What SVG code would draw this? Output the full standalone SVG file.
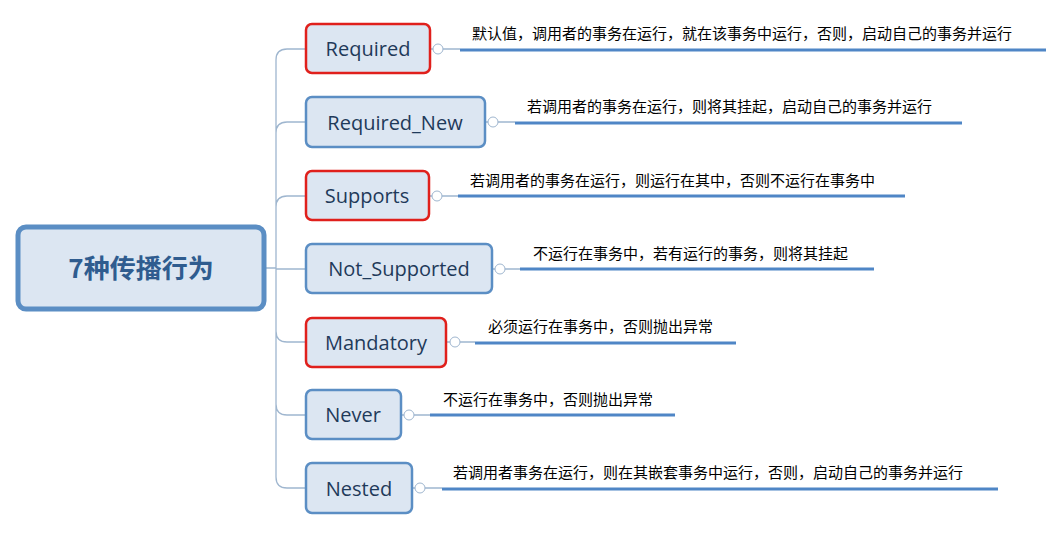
<svg xmlns="http://www.w3.org/2000/svg" width="1064" height="537" viewBox="0 0 1064 537">
<style>
.n{fill:#dce6f2;stroke:#5b8ec4;stroke-width:2.5}
.r{fill:#dce6f2;stroke:#e0201c;stroke-width:2.5}
.t{font-family:"Open Sans","Noto Sans",sans-serif;font-size:20px;fill:#1f3a5a}
.d{font-family:"Noto Sans CJK SC",sans-serif;font-size:15px;fill:#000}
.c{fill:#fff;stroke:#9fb6cf;stroke-width:1}
.u{stroke:#4f86c6;stroke-width:3}
.k{fill:none;stroke:#9fb6cf;stroke-width:1.3}
</style>
<rect width="1064" height="537" fill="#fff"/>
<g id="connectors">
<path class="k" d="M264 268H276M276 60Q276 49 287 49H306M276 133Q276 122 287 122H306M276 207Q276 196 287 196H306M276 269H306M276 331Q276 342 287 342H306M276 404Q276 415 287 415H306M276 477Q276 488 287 488H306M276 60V477"/>
<path class="k" d="M430 49H460M485 122H515M429 196H458M492 269H520M446 342H475M401 415H430M412 488H442"/>
<line class="u" x1="460" y1="50" x2="1046" y2="50"/>
<line class="u" x1="515" y1="123" x2="962" y2="123"/>
<line class="u" x1="458" y1="196" x2="905" y2="196"/>
<line class="u" x1="520" y1="269" x2="874" y2="269"/>
<line class="u" x1="475" y1="343" x2="736" y2="343"/>
<line class="u" x1="430" y1="415" x2="675" y2="415"/>
<line class="u" x1="442" y1="489" x2="998" y2="489"/>
<circle class="c" cx="438" cy="49" r="5"/><circle class="c" cx="493" cy="122" r="5"/><circle class="c" cx="437" cy="196" r="5"/><circle class="c" cx="500" cy="269" r="5"/><circle class="c" cx="455" cy="342" r="5"/><circle class="c" cx="409" cy="415" r="5"/><circle class="c" cx="420" cy="488" r="5"/>
</g>
<g id="root"><rect x="18" y="227" width="246" height="82" rx="8" fill="#dce6f2" stroke="#5b8ec4" stroke-width="5"/><text x="141" y="278" text-anchor="middle" font-family="'Noto Sans CJK SC',sans-serif" font-size="26" font-weight="bold" fill="#2f5c8f">7种传播行为</text></g>
<g id="required"><rect class="r" x="306" y="24" width="124" height="49" rx="6"/><text class="t" x="368" y="56" text-anchor="middle">Required</text><text class="d" x="472" y="39">默认值，调用者的事务在运行，就在该事务中运行，否则，启动自己的事务并运行</text></g>
<g id="required_new"><rect class="n" x="306" y="97" width="179" height="50" rx="6"/><text class="t" x="395" y="130" text-anchor="middle">Required_New</text><text class="d" x="527" y="112">若调用者的事务在运行，则将其挂起，启动自己的事务并运行</text></g>
<g id="supports"><rect class="r" x="306" y="171" width="123" height="49" rx="6"/><text class="t" x="367" y="203" text-anchor="middle">Supports</text><text class="d" x="470" y="186">若调用者的事务在运行，则运行在其中，否则不运行在事务中</text></g>
<g id="not_supported"><rect class="n" x="306" y="244" width="186" height="49" rx="6"/><text class="t" x="399" y="276" text-anchor="middle">Not_Supported</text><text class="d" x="533" y="259">不运行在事务中，若有运行的事务，则将其挂起</text></g>
<g id="mandatory"><rect class="r" x="306" y="318" width="140" height="49" rx="6"/><text class="t" x="376" y="350" text-anchor="middle">Mandatory</text><text class="d" x="488" y="332">必须运行在事务中，否则抛出异常</text></g>
<g id="never"><rect class="n" x="306" y="390" width="95" height="49" rx="6"/><text class="t" x="353" y="422" text-anchor="middle">Never</text><text class="d" x="443" y="405">不运行在事务中，否则抛出异常</text></g>
<g id="nested"><rect class="n" x="306" y="463" width="106" height="50" rx="6"/><text class="t" x="359" y="496" text-anchor="middle">Nested</text><text class="d" x="453" y="478">若调用者事务在运行，则在其嵌套事务中运行，否则，启动自己的事务并运行</text></g>
</svg>
